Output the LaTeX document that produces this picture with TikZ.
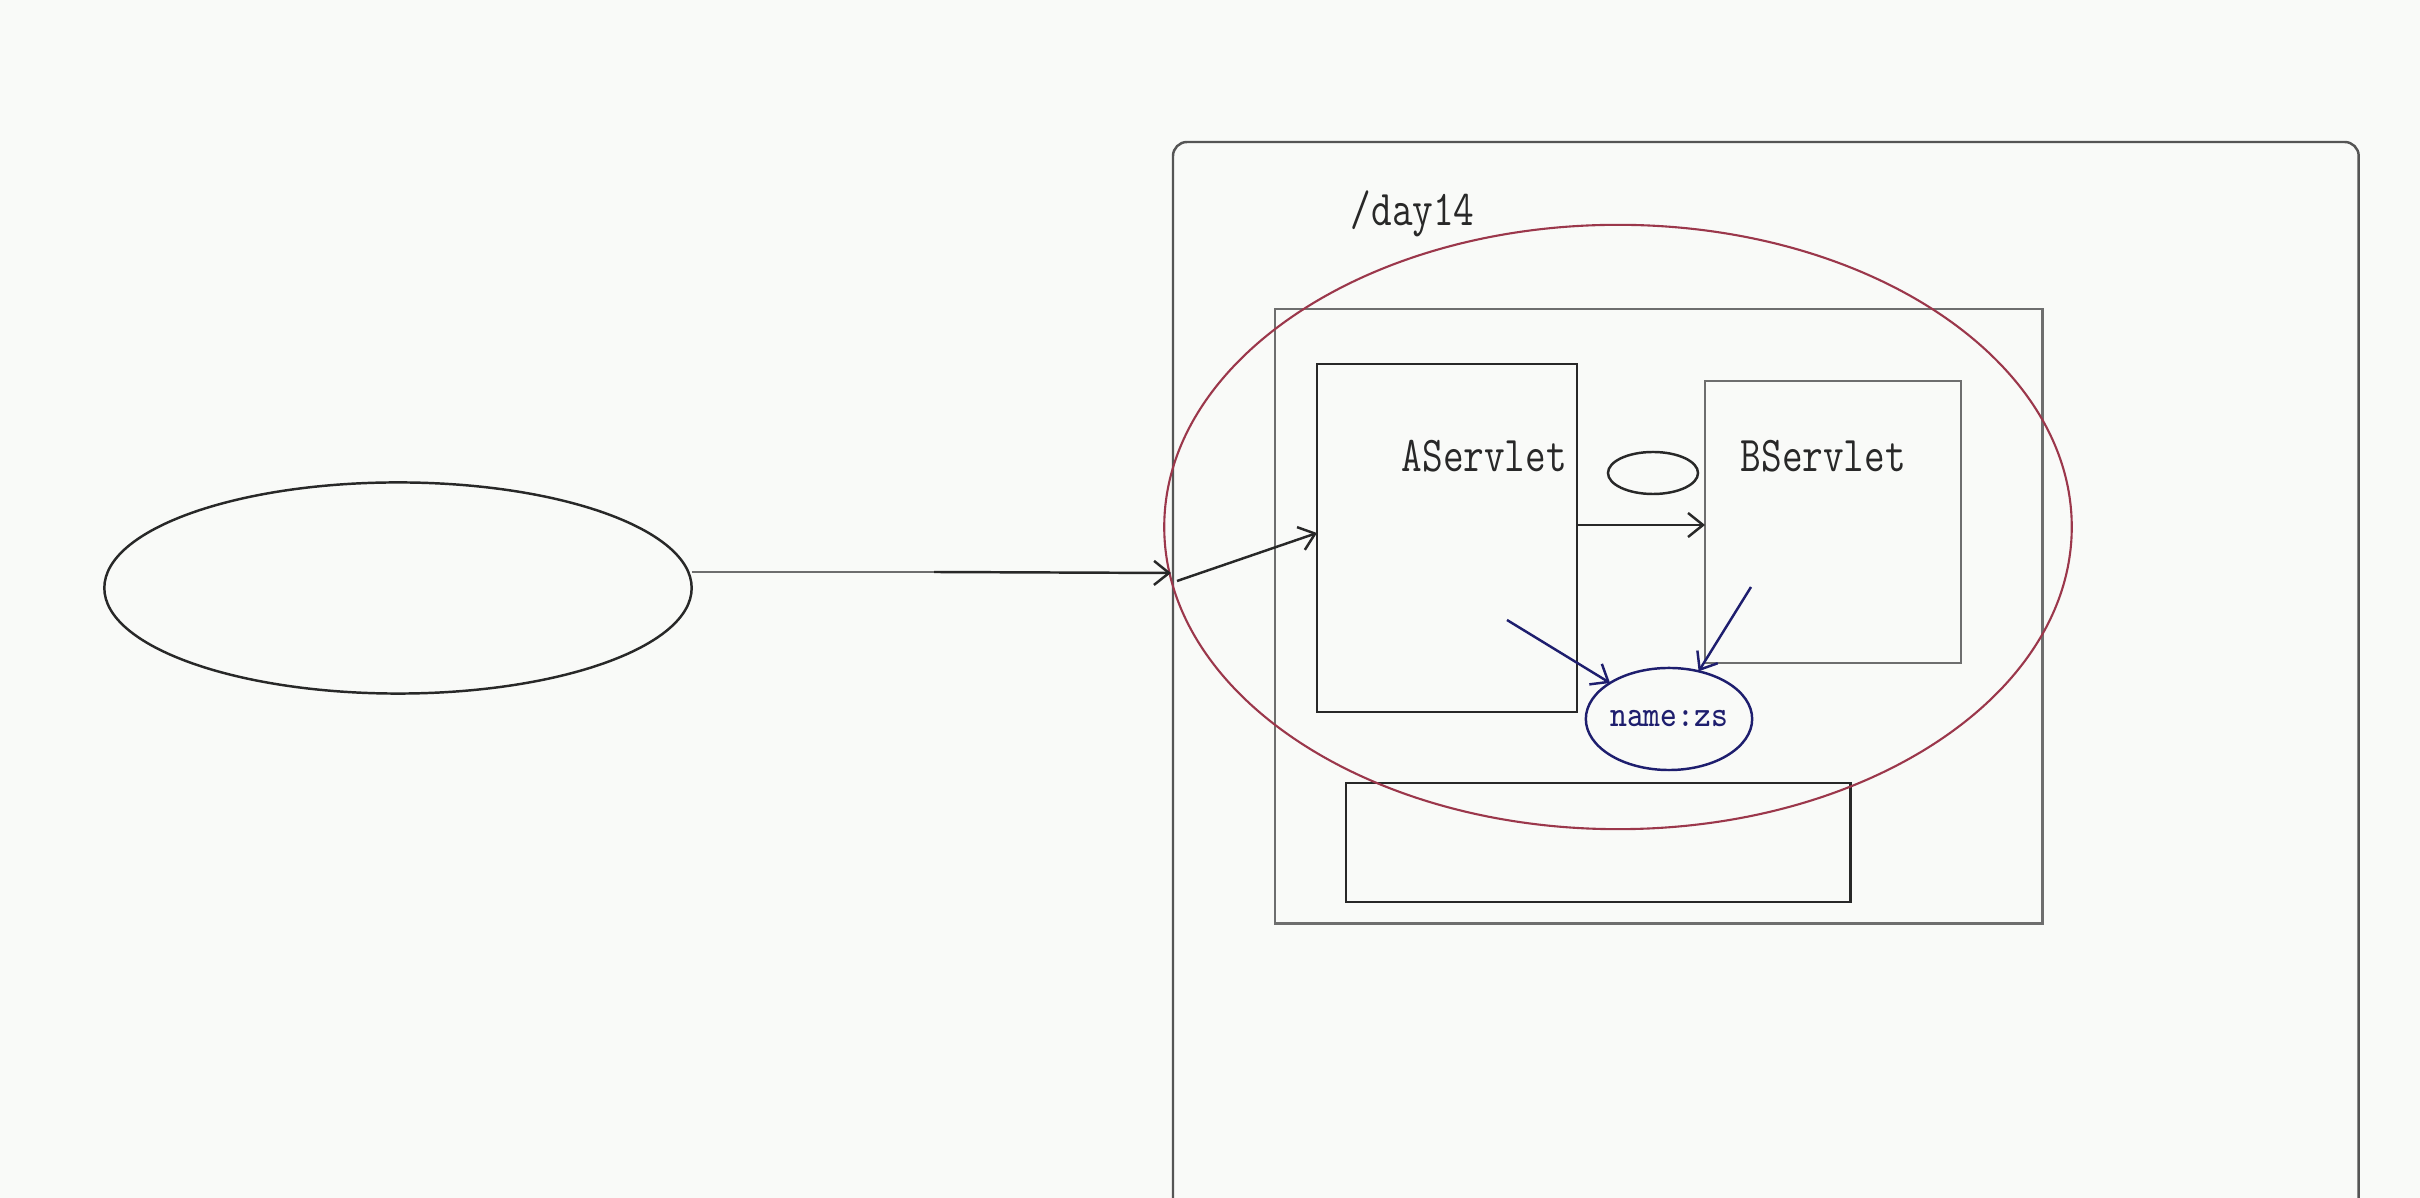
\documentclass[tikz,border=0pt]{standalone}
\usepackage{graphicx}
\usetikzlibrary{shapes.geometric,arrows.meta}
\definecolor{bg}{RGB}{249,250,248}
\definecolor{maroonline}{RGB}{155,55,75}
\definecolor{navyline}{RGB}{30,30,110}
\definecolor{darkline}{RGB}{40,40,40}
\definecolor{outerline}{RGB}{85,85,85}
\definecolor{midline}{RGB}{110,110,110}
\begin{document}
\begin{tikzpicture}[x=0.01cm,y=-0.01cm,
  box/.style={draw, inner sep=0pt, outer sep=0pt, line width=0.7pt},
  oval/.style={ellipse, draw, inner sep=0pt, outer sep=0pt, line width=0.7pt},
  lbl/.style={anchor=base west, inner sep=0pt, font=\fontsize{11.4}{13}\selectfont\ttfamily, text=darkline},
  arr/.style={-{Straight Barb[length=0.15cm,width=0.24cm]}, line width=0.7pt}]
\useasboundingbox (0,0) rectangle (2420,1198);
\fill[bg] (0,0) rectangle (2420,1198);
\begin{scope}
\clip (0,0) rectangle (2420,1198);
% outer container
\node[box, draw=outerline, rounded corners=0.14cm, minimum width=11.85cm, minimum height=10.8cm, anchor=north west] (outer) at (1173,142) {};
\node[lbl] (day) at (1350,226) {\scalebox{1}[1.25]{/day14}};
% inner container
\node[box, draw=midline, minimum width=7.67cm, minimum height=6.14cm, anchor=north west] (inner) at (1275,309) {};
% servlets
\node[box, draw=darkline, minimum width=2.60cm, minimum height=3.48cm, anchor=north west] (A) at (1317,364) {};
\node[box, draw=midline, minimum width=2.56cm, minimum height=2.82cm, anchor=north west] (B) at (1705,381) {};
\node[lbl] (atext) at (1401,472) {\scalebox{1}[1.25]{AServlet}};
\node[lbl] (btext) at (1740,472) {\scalebox{1}[1.25]{BServlet}};
% bottom box
\node[box, draw=darkline, minimum width=5.04cm, minimum height=1.19cm, anchor=north west] (bottom) at (1346,783) {};
% small oval between servlets
\node[oval, draw=darkline, minimum width=0.90cm, minimum height=0.42cm] (small) at (1653,473) {};
% name:zs oval
\node[oval, draw=navyline, text=navyline, minimum width=1.54cm, minimum height=1.02cm,
  font=\fontsize{9.1}{11}\selectfont\ttfamily] (zs) at (1669,719) {\scalebox{1}[1.15]{name:zs}};
% big red ellipse
\node[oval, draw=maroonline, line width=0.6pt, minimum width=9.07cm, minimum height=6.04cm] (red) at (1618,527) {};
% left client ellipse
\node[oval, draw=darkline, minimum width=5.87cm, minimum height=2.11cm] (left) at (398,588) {};
% connectors
\coordinate (m) at (934,572);
\coordinate (e) at (1171,573);
\coordinate (e2) at (1177,581);
\draw[midline, line width=0.8pt] (left.east |- m) -- (m);
\draw[darkline, arr] (m) -- (e);
\draw[darkline, arr] (e2) -- (A.west |- 0,533);
\draw[darkline, arr] (A.east |- 0,525) -- (B.west |- 0,525);
\coordinate (p1) at (1507,620);
\coordinate (p2) at (1751,587);
\draw[navyline, arr] (p1) -- (zs);
\draw[navyline, arr] (p2) -- (zs);
\end{scope}
\end{tikzpicture}
\end{document}
